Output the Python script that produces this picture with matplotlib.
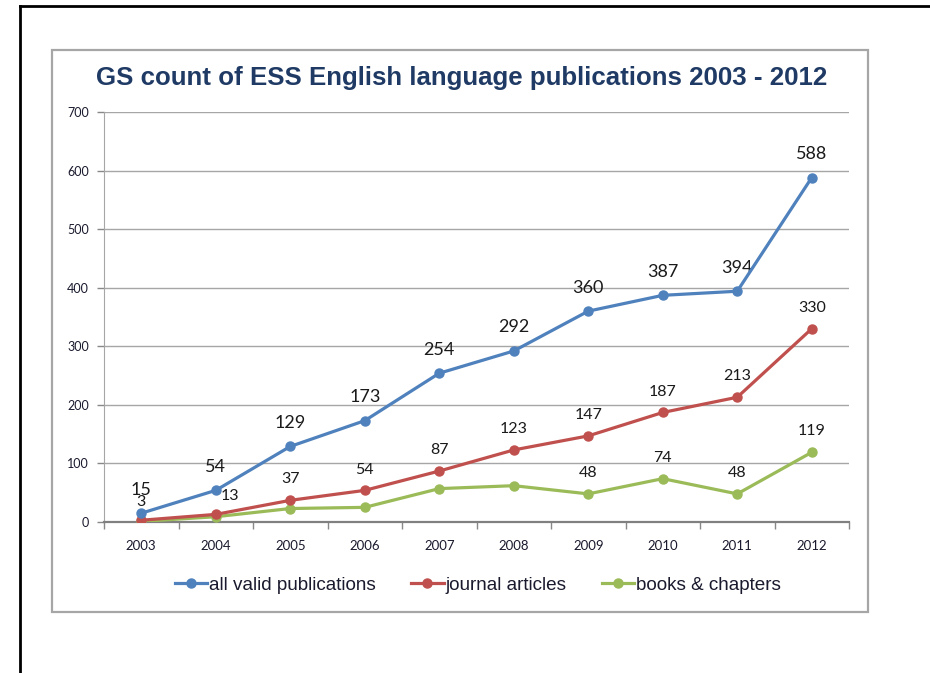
import matplotlib
matplotlib.use("Agg")
import matplotlib.pyplot as plt
from matplotlib.lines import Line2D
from matplotlib.patches import Rectangle

years = ["2003", "2004", "2005", "2006", "2007", "2008", "2009", "2010", "2011", "2012"]
all_valid = [15, 54, 129, 173, 254, 292, 360, 387, 394, 588]
journal = [3, 13, 37, 54, 87, 123, 147, 187, 213, 330]
books = [1, 9, 23, 25, 57, 62, 48, 74, 48, 119]
yticks = [0, 100, 200, 300, 400, 500, 600, 700]

BLUE = "#4F81BD"
RED = "#C0504D"
GREEN = "#9BBB59"
W, H = 930, 673

fig = plt.figure(figsize=(W / 100, H / 100), dpi=100)
fig.patch.set_facecolor("white")

# outer black frame (left + top)
fig.add_artist(Line2D([19.5 / W, 19.5 / W], [0, 1 - 6 / H], color="black", lw=2, transform=fig.transFigure))
fig.add_artist(Line2D([19.5 / W, 1], [1 - 6 / H, 1 - 6 / H], color="black", lw=2, transform=fig.transFigure))
# chart border
fig.add_artist(Rectangle((52 / W, 1 - 612 / H), (868 - 52) / W, (612 - 50) / H, fill=False,
                         edgecolor="#A6A6A6", lw=1.6, transform=fig.transFigure))

ax = fig.add_axes([104 / W, 1 - 522 / H, (849 - 104) / W, (522 - 112) / H])
x = list(range(len(years)))
ms = 6.5
lw = 2.3
ax.plot(x, all_valid, color=BLUE, lw=lw, marker="o", ms=ms, zorder=5)
ax.plot(x, journal, color=RED, lw=lw, marker="o", ms=ms, zorder=4)
ax.plot(x, books, color=GREEN, lw=lw, marker="o", ms=ms, zorder=3)

ax.set_xlim(-0.5, len(years) - 0.5)
ax.set_ylim(0, 700)
ax.set_yticks(yticks)
ax.set_yticklabels([str(v) for v in yticks], fontsize=9, family="Lato", color="#1a1a2e")
ax.set_xticks(x)
ax.set_xticklabels(years, fontsize=9.5, family="Lato", color="#1a1a2e")
ax.set_xticks([i - 0.5 for i in range(len(years) + 1)], minor=True)
ax.tick_params(axis="x", which="major", length=0, pad=13)
ax.tick_params(axis="x", which="minor", length=5, color="#888888", width=1, direction="out")
ax.tick_params(axis="y", length=5, color="#888888", width=1, pad=6)
ax.grid(axis="y", color="#A6A6A6", lw=1)
ax.set_axisbelow(True)
for s in ["top", "right"]:
    ax.spines[s].set_visible(False)
ax.spines["left"].set_color("#A6A6A6")
ax.spines["bottom"].set_color("#808080")
ax.spines["bottom"].set_linewidth(1.6)

lab = dict(ha="center", va="center", family="Lato", color="#1a1a1a")
for i, v in enumerate(all_valid):
    ax.annotate(str(v), (i, v), xytext=(0, 17), textcoords="offset points", fontsize=13, **lab)
for i, v in enumerate(journal):
    if i == 0:
        off = (0, 13)
    elif i == 1:
        off = (10, 13)
    else:
        off = (0, 15)
    ax.annotate(str(v), (i, v), xytext=off, textcoords="offset points", fontsize=11.5, **lab)
for i, v in enumerate(books):
    if i >= 6:
        ax.annotate(str(v), (i, v), xytext=(0, 15), textcoords="offset points", fontsize=11.5, **lab)

fig.text(462 / W, 1 - 78 / H, "GS count of ESS English language publications 2003 - 2012",
         ha="center", va="center", fontsize=18.6, fontweight="bold", family="Liberation Sans",
         color="#1F3A64")

handles = [Line2D([], [], color=c, lw=lw, marker="o", ms=ms) for c in (BLUE, RED, GREEN)]
fig.legend(handles, ["all valid publications", "journal articles", "books & chapters"],
           loc="center", bbox_to_anchor=(478 / W, 1 - 585 / H), ncol=3, frameon=False,
           prop={"family": "Liberation Sans", "size": 13.6}, handlelength=1.7,
           handletextpad=0.1, columnspacing=1.9, labelcolor="#1a1a2e")

fig.savefig("out.png", dpi=100)
